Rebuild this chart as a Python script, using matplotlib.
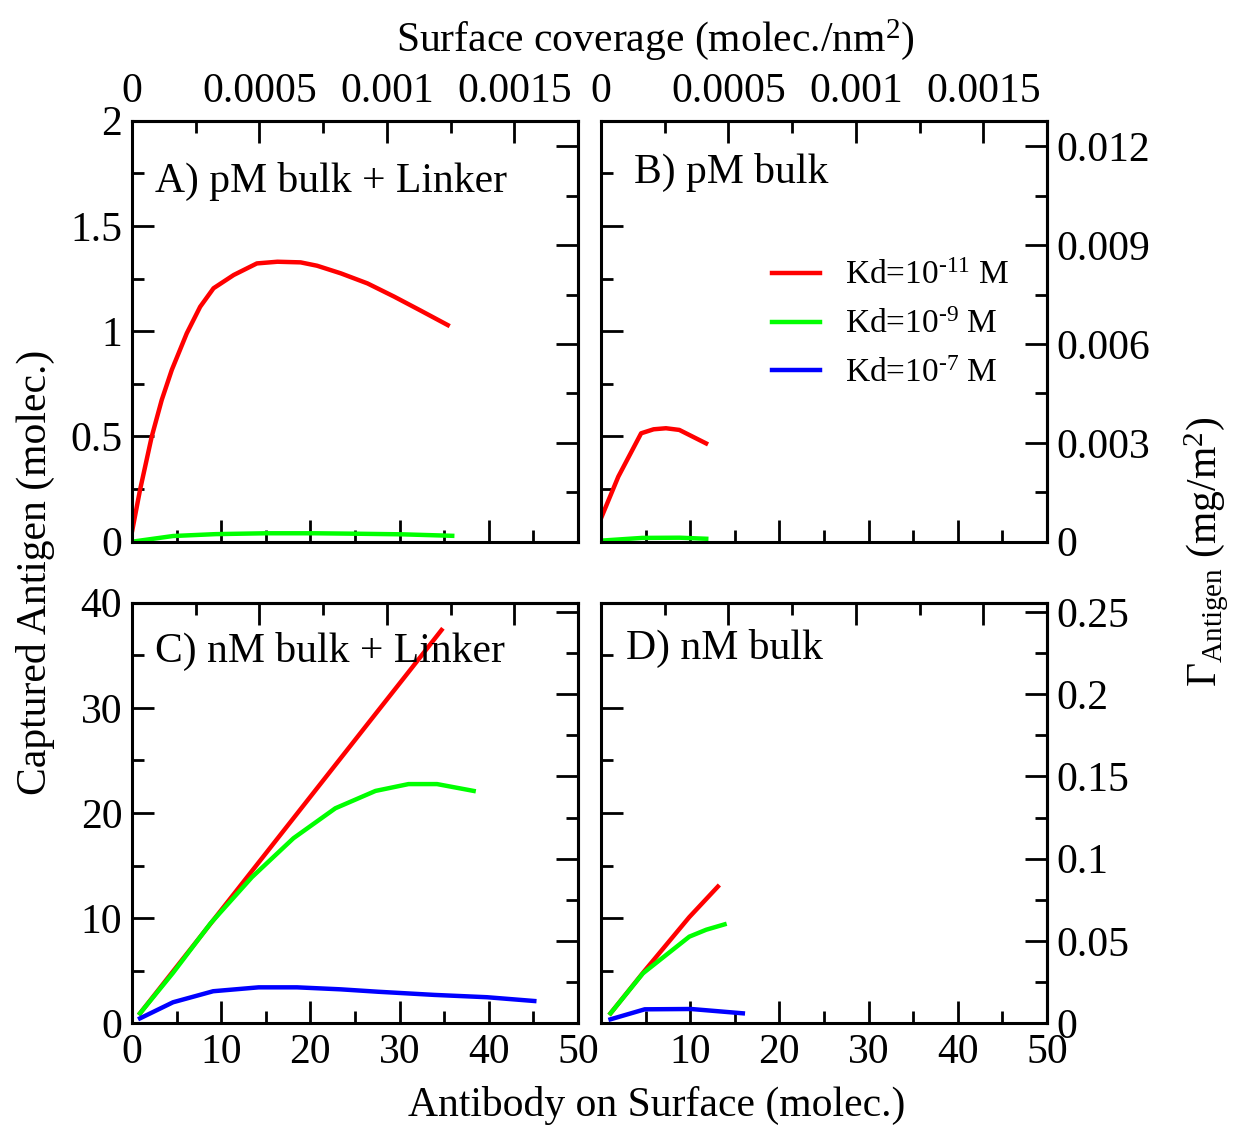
import matplotlib
matplotlib.use('Agg')
import matplotlib.pyplot as plt
from matplotlib.ticker import MultipleLocator

plt.rcParams['font.family'] = ['Liberation Serif', 'DejaVu Serif']
plt.rcParams['mathtext.fontset'] = 'custom'
plt.rcParams['mathtext.rm'] = 'Liberation Serif'
plt.rcParams['mathtext.it'] = 'Liberation Serif:italic'

# conversion factors
COV_PER_AB = 3.5e-5      # molec./nm^2 per antibody
MG_PER_AG = 0.00639      # mg/m^2 per captured antigen

# A) pM bulk + Linker
a_red_x = [0.04, 0.9, 2.21, 3.33, 4.46, 6.14, 7.64, 9.14, 11.4, 14.0, 16.3, 18.9, 20.75, 23.4, 26.4, 29.4, 32.4, 35.4]
a_red_y = [0.056, 0.246, 0.499, 0.673, 0.816, 0.99, 1.116, 1.204, 1.267, 1.322, 1.33, 1.327, 1.311, 1.275, 1.227, 1.164, 1.097, 1.029]
a_green_x = [0.0, 4.6, 9.4, 15.0, 20.5, 25.0, 30.3, 35.9]
a_green_y = [0.0, 0.027, 0.036, 0.04, 0.04, 0.038, 0.035, 0.028]

# B) pM bulk
b_red_x = [0.0, 1.94, 4.5, 5.9, 7.28, 8.78, 11.78]
b_red_y = [0.111, 0.309, 0.515, 0.534, 0.539, 0.531, 0.467]
b_green_x = [0.0, 4.6, 8.8, 11.8]
b_green_y = [0.005, 0.018, 0.019, 0.014]

# C) nM bulk + Linker
c_red_x = [0.9, 4.6, 9.1, 13.6, 18.2, 22.8, 27.3, 31.0, 34.7]
c_red_y = [0.95, 4.94, 9.79, 14.65, 19.61, 24.57, 29.42, 33.4, 37.4]
c_green_x = [0.9, 4.6, 8.8, 13.45, 18.1, 22.8, 27.3, 31.0, 34.2, 38.3]
c_green_y = [0.95, 4.8, 9.5, 13.9, 17.6, 20.45, 22.1, 22.75, 22.75, 22.1]
c_blue_x = [0.9, 4.6, 9.1, 14.2, 18.5, 23.4, 27.6, 33.9, 39.8, 45.1]
c_blue_y = [0.47, 2.0, 3.05, 3.42, 3.42, 3.23, 3.0, 2.7, 2.48, 2.12]

# D) nM bulk
d_red_x = [1.07, 4.8, 9.9, 13.1]
d_red_y = [0.95, 4.9, 10.1, 13.0]
d_green_x = [1.07, 4.7, 9.9, 11.8, 13.85]
d_green_y = [0.95, 4.75, 8.24, 8.9, 9.41]
d_blue_x = [1.07, 4.9, 10.1, 15.9]
d_blue_y = [0.38, 1.33, 1.36, 0.95]

legend_labels = [r'Kd=10$^{\text{-11}}$ M', r'Kd=10$^{\text{-9}}$ M', r'Kd=10$^{\text{-7}}$ M']
colors = ['#ff0000', '#00ff00', '#0000ff']

top_ticks = [0, 0.0005, 0.001, 0.0015]
top_labels = ['0', '0.0005', '0.001', '0.0015']
bot_ticks = [0, 10, 20, 30, 40, 50]
bot_labels = ['0', '10', '20', '30', '40', '50']
pm_ticks = [0, 0.5, 1, 1.5, 2]
pm_labels = ['0', '0.5', '1', '1.5', '2']
nm_ticks = [0, 10, 20, 30, 40]
nm_labels = ['0', '10', '20', '30', '40']
pm_mg_ticks = [0, 0.003, 0.006, 0.009, 0.012]
pm_mg_labels = ['0', '0.003', '0.006', '0.009', '0.012']
nm_mg_ticks = [0, 0.05, 0.1, 0.15, 0.2, 0.25]
nm_mg_labels = ['0', '0.05', '0.1', '0.15', '0.2', '0.25']

TS = 30
LW = 2.2
tick_kw = dict(direction='in', width=2.0, labelsize=TS, pad=7)


def style_ticks(axis):
    axis.tick_params(which='major', length=16, **tick_kw)
    axis.tick_params(which='minor', length=8.5, **tick_kw)


def make_panel(rect, ylim, yticks, ylabels, ymin, mgticks, mglabels, mgmin,
               show_top, show_bottom, show_left, show_right, bottom_labels):
    ax = fig.add_axes(rect)
    ax.set_xlim(0, 50)
    ax.set_ylim(*ylim)
    for s in ax.spines.values():
        s.set_linewidth(LW)
    ax.set_xticks(bot_ticks, labels=bottom_labels)
    ax.xaxis.set_minor_locator(MultipleLocator(5))
    ax.set_yticks(yticks, labels=ylabels)
    ax.yaxis.set_minor_locator(MultipleLocator(ymin))
    style_ticks(ax)
    ax.tick_params(which='both', top=False, right=False,
                   labelbottom=show_bottom, labelleft=show_left)

    sx = ax.secondary_xaxis('top', functions=(lambda v: v * COV_PER_AB,
                                               lambda v: v / COV_PER_AB))
    sx.set_xticks(top_ticks, labels=top_labels)
    sx.xaxis.set_minor_locator(MultipleLocator(0.00025))
    style_ticks(sx)
    sx.tick_params(which='both', labeltop=show_top)
    sx.spines['top'].set_linewidth(LW)

    sy = ax.secondary_yaxis('right', functions=(lambda v: v * MG_PER_AG,
                                                lambda v: v / MG_PER_AG))
    sy.set_yticks(mgticks, labels=mglabels)
    sy.yaxis.set_minor_locator(MultipleLocator(mgmin))
    style_ticks(sy)
    sy.tick_params(which='both', labelright=show_right)
    sy.spines['right'].set_linewidth(LW)
    return ax


fig = plt.figure(figsize=(12.38, 11.26), dpi=100)

xa, xb, w = 132 / 1238, 601 / 1238, 446 / 1238
top_b, top_h = 1 - 541.7 / 1126, 421 / 1126
bot_b, bot_h = 1 - 1023.3 / 1126, 420.6 / 1126

axA = make_panel([xa, top_b, w, top_h], (0, 2), pm_ticks, pm_labels, 0.25,
                 pm_mg_ticks, pm_mg_labels, 0.0015, True, False, True, False, bot_labels)
axB = make_panel([xb, top_b, w, top_h], (0, 2), pm_ticks, pm_labels, 0.25,
                 pm_mg_ticks, pm_mg_labels, 0.0015, True, False, False, True, bot_labels)
axC = make_panel([xa, bot_b, w, bot_h], (0, 40), nm_ticks, nm_labels, 5,
                 nm_mg_ticks, nm_mg_labels, 0.025, False, True, True, False, bot_labels)
axD = make_panel([xb, bot_b, w, bot_h], (0, 40), nm_ticks, nm_labels, 5,
                 nm_mg_ticks, nm_mg_labels, 0.025, False, True, False, True,
                 [''] + bot_labels[1:])

LWD = 3.2
axA.plot(a_red_x, a_red_y, color=colors[0], lw=LWD)
axA.plot(a_green_x, a_green_y, color=colors[1], lw=LWD)

axB.plot(b_red_x, b_red_y, color=colors[0], lw=LWD, label=legend_labels[0])
axB.plot(b_green_x, b_green_y, color=colors[1], lw=LWD, label=legend_labels[1])
axB.plot([], [], color=colors[2], lw=LWD, label=legend_labels[2])

axC.plot(c_red_x, c_red_y, color=colors[0], lw=LWD)
axC.plot(c_green_x, c_green_y, color=colors[1], lw=LWD)
axC.plot(c_blue_x, c_blue_y, color=colors[2], lw=LWD)

axD.plot(d_red_x, d_red_y, color=colors[0], lw=LWD)
axD.plot(d_green_x, d_green_y, color=colors[1], lw=LWD)
axD.plot(d_blue_x, d_blue_y, color=colors[2], lw=LWD)

PS = 30
axA.text(0.052, 0.8306, 'A) pM bulk + Linker', transform=axA.transAxes, fontsize=PS, va='baseline')
axB.text(0.073, 0.851, 'B) pM bulk', transform=axB.transAxes, fontsize=PS, va='baseline')
axC.text(0.052, 0.860, 'C) nM bulk + Linker', transform=axC.transAxes, fontsize=PS, va='baseline')
axD.text(0.056, 0.866, 'D) nM bulk', transform=axD.transAxes, fontsize=PS, va='baseline')

axB.legend(loc='center left', bbox_to_anchor=(0.383, 0.515), frameon=False,
           fontsize=24, handlelength=1.45, handletextpad=0.75, labelspacing=0.55,
           borderpad=0, borderaxespad=0)

fig.text(655 / 1238, 1 - 40 / 1126, r'Surface coverage (molec./nm$^2$)', fontsize=PS,
         ha='center', va='center')
fig.text(657 / 1238, 1 - 1105 / 1126, 'Antibody on Surface (molec.)', fontsize=PS,
         ha='center', va='center')
fig.text(35 / 1238, 1 - 572 / 1126, 'Captured Antigen (molec.)', fontsize=PS,
         ha='center', va='center', rotation=90)
fig.text(1207 / 1238, 1 - 552 / 1126, r'$\Gamma_{\mathrm{Antigen}}$ (mg/m$^2$)', fontsize=PS,
         ha='center', va='center', rotation=90)

fig.savefig('out.png', dpi=100)
